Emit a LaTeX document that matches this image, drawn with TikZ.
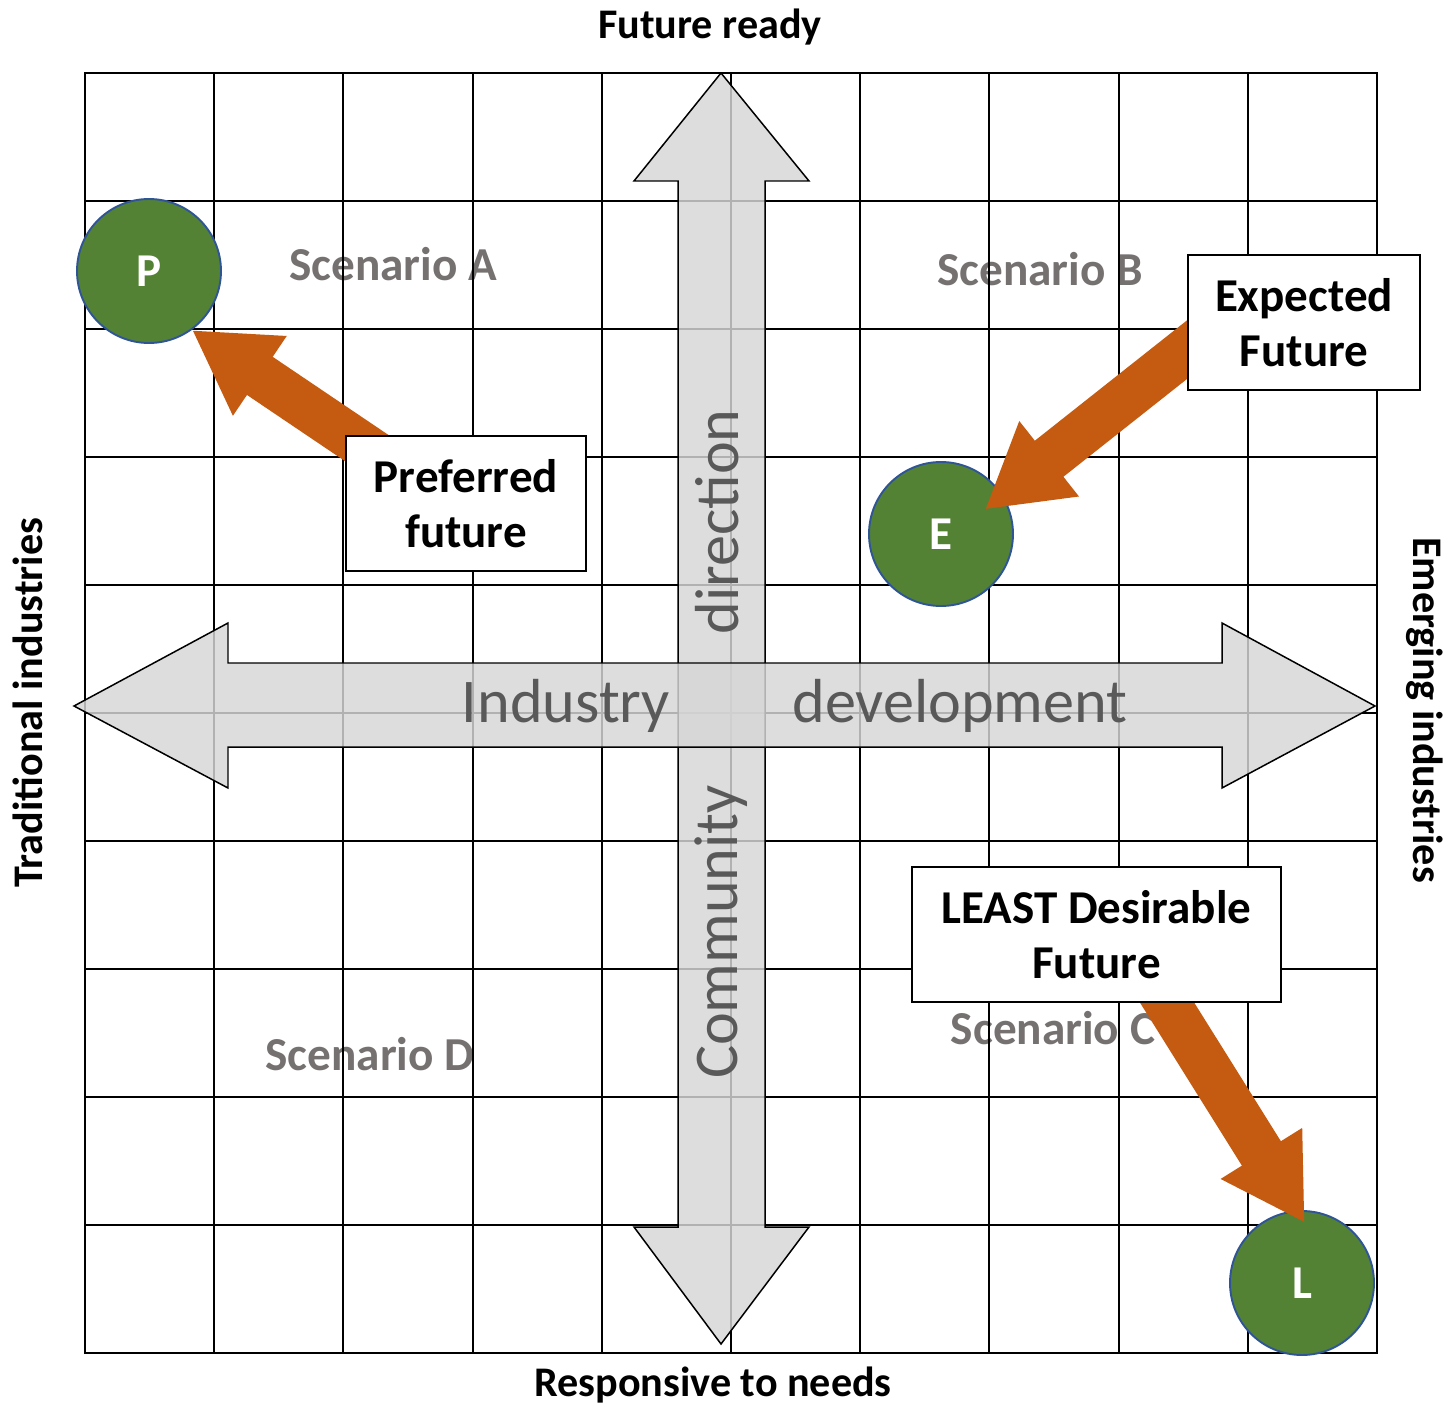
\documentclass[tikz,border=0pt]{standalone}
\usepackage{fontspec}
\setmainfont{Carlito}
\usepackage{tikz}
\usetikzlibrary{arrows.meta}

\definecolor{futorange}{HTML}{C55A11}
\definecolor{futgreen}{HTML}{548235}
\definecolor{futblue}{HTML}{2F5597}
\definecolor{scengray}{HTML}{767171}
\definecolor{bandtextgray}{HTML}{595959}
\definecolor{bandgray}{RGB}{214,214,214}

\begin{document}
\begin{tikzpicture}
    [x=0.02cm, y=-0.02cm,
    axislabel/.style={anchor=base, font=\fontsize{24}{28}\selectfont\bfseries},
    scen/.style={anchor=base, text=scengray, font=\fontsize{26.9}{31}\selectfont\bfseries},
    band/.style={draw=black, line width=0.85pt, fill=bandgray, fill opacity=0.83},
    bandtext/.style={anchor=base, text=bandtextgray, font=\fontsize{35.4}{40}\selectfont},
    future/.style={circle, draw=futblue, line width=1.1pt, fill=futgreen, text=white,
        minimum size=2.88cm, inner sep=0pt, font=\fontsize{26.8}{31}\selectfont\bfseries},
    callout/.style={draw=black, line width=0.85pt, fill=white, align=center,
        minimum height=2.7cm, inner sep=0pt, font=\fontsize{26.8}{31.2}\selectfont\bfseries},
    pointer/.style={futorange, line width=0.92cm,
        -{Triangle[length=1.64cm, width=1.8cm]}}
    ]

    \def\cw{129.2}
    \def\ch{128}

    \useasboundingbox (0,0) rectangle (1445,1406);

    % Scenario names (the grid runs over them)
    \node[scen] (scenA) at (393,280) {Scenario A};
    \node[scen] (scenB) at (1040,285) {Scenario B};
    \node[scen] (scenC) at (1053,1044) {Scenario C};
    \node[scen] (scenD) at (370,1070) {Scenario D};

    % Draw the grid
    \foreach \i in {0,...,10} {
        \draw[line width=1.1pt] (85+\i*\cw,73) -- (85+\i*\cw,1353);
        \draw[line width=1.1pt] (85,73+\i*\ch) -- (1377,73+\i*\ch);
    }
    \draw[line width=1.4pt] (85,73) rectangle (1377,1353);

    % Draw the two big double arrows
    \draw[band] (721,73) -- (809,181) -- (765,181) -- (765,1227) -- (809,1227)
        -- (721,1344) -- (634,1227) -- (678,1227) -- (678,181) -- (634,181) -- cycle;
    \draw[band] (74,706) -- (228,623) -- (228,663) -- (1222,663) -- (1222,623)
        -- (1375,706) -- (1222,788) -- (1222,747) -- (228,747) -- (228,788) -- cycle;

    \node[bandtext] (industry) at (566,722) {Industry};
    \node[bandtext] (develop) at (960,722) {development};
    \node[bandtext, rotate=90] (direct) at (738,522) {direction};
    \node[bandtext, rotate=90] (commun) at (737,932) {Community};

    % Axis names
    \node[axislabel] (ready) at (710,39) {Future ready};
    \node[axislabel] (needs) at (713,1396) {Responsive to needs};
    \node[axislabel, rotate=90] (trad) at (42,703) {Traditional industries};
    \node[axislabel, rotate=-90] (emerg) at (1413,710) {Emerging industries};

    % Futures
    \node[future] (P) at (149,271) {P};
    \node[future] (E) at (941,534) {E};
    \node[future] (L) at (1302,1283) {L};

    \node[callout, minimum width=4.8cm] (pref) at (466,503.5) {Preferred\\future};
    \node[callout, minimum width=4.64cm] (expect) at (1304,322.5) {Expected\\Future};
    \node[callout, minimum width=7.38cm] (least) at (1096.5,934.5) {LEAST Desirable\\Future};

    \draw[pointer, shorten <=-2cm] (pref.150) -- (P.-54);
    \draw[pointer, shorten <=-1cm, shorten >=-0.46cm] (expect.193) -- (E.32);
    \draw[pointer, shorten <=-1cm, shorten >=-0.3cm] (least.-44.6) -- (L.94);

    % boxes again on top of the pointers
    \node[callout, minimum width=4.8cm] at (pref) {Preferred\\future};
    \node[callout, minimum width=4.64cm] at (expect) {Expected\\Future};
    \node[callout, minimum width=7.38cm] at (least) {LEAST Desirable\\Future};

\end{tikzpicture}
\end{document}
